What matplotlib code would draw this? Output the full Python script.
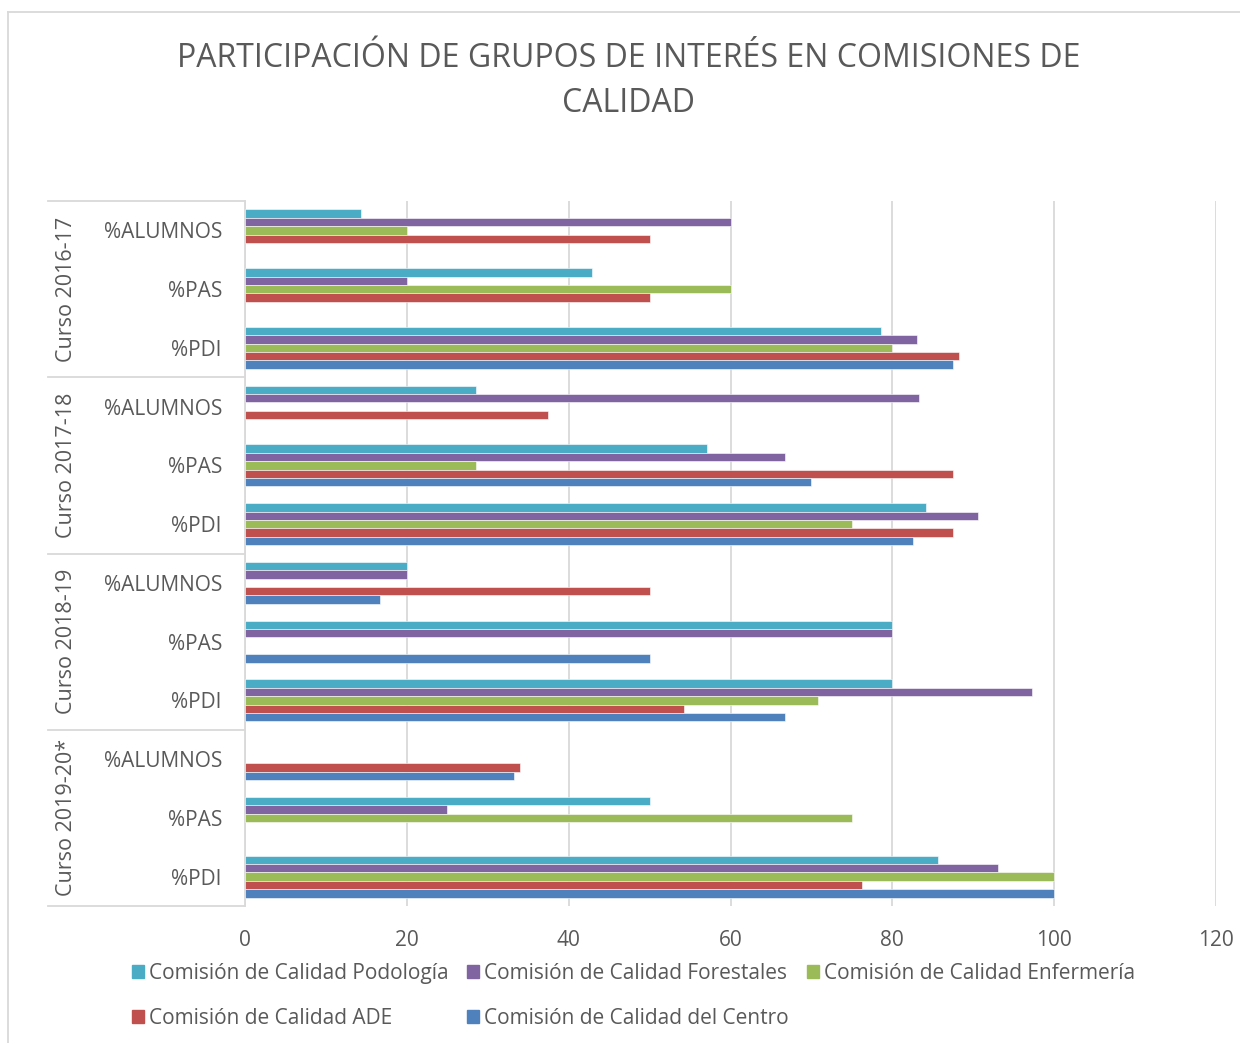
import numpy as np
import matplotlib.pyplot as plt
from matplotlib.patches import Patch

plt.rcParams['font.family'] = ['Open Sans', 'DejaVu Sans']
txt_color = '#595959'
grid_color = '#d9d9d9'

cursos = ['Curso 2016-17', 'Curso 2017-18', 'Curso 2018-19', 'Curso 2019-20*']
grupos = ['%ALUMNOS', '%PAS', '%PDI']

nan = np.nan
# one value per (curso, grupo), in reading order
podologia = [14.3, 42.9, 78.6, 28.6, 57.1, 84.1, 20, 80, 80, nan, 50, 85.7]
forestales = [60, 20, 83.0, 83.3, 66.7, 90.6, 20, 80, 97.3, nan, 25, 93.1]
enfermeria = [20, 60, 80, nan, 28.6, 75, nan, nan, 70.8, nan, 75, 100]
ade = [50, 50, 88.2, 37.5, 87.5, 87.5, 50, nan, 54.2, 34.0, nan, 76.2]
centro = [nan, nan, 87.5, nan, 70, 82.6, 16.7, 50, 66.7, 33.3, nan, 100]

series = [
    ('Comisión de Calidad Podología', podologia, '#4bacc6'),
    ('Comisión de Calidad Forestales', forestales, '#8064a2'),
    ('Comisión de Calidad Enfermería', enfermeria, '#9bbb59'),
    ('Comisión de Calidad ADE', ade, '#c0504d'),
    ('Comisión de Calidad del Centro', centro, '#4f81bd'),
]

fig = plt.figure(figsize=(12.4, 10.43), dpi=100)
ax = fig.add_axes([245 / 1240, 1 - 906 / 1043, 971 / 1240, 705 / 1043])

n = len(cursos) * len(grupos)
pos = np.arange(n)
h = 1 / 1.4 / len(series)
for k, (name, vals, col) in enumerate(series):
    ax.barh(pos + (k - 2) * h, vals, height=h, color=col, label=name,
            edgecolor='white', linewidth=0.4, zorder=3)

ax.set_xlim(0, 120)
ax.set_ylim(n - 0.5, -0.5)
ax.set_xticks(range(0, 121, 20))
ax.grid(axis='x', color=grid_color, linewidth=1.3, zorder=0)
ax.set_yticks([])
for s in ['top', 'right', 'bottom']:
    ax.spines[s].set_visible(False)
ax.spines['left'].set_color(grid_color)
ax.spines['left'].set_linewidth(1.3)
ax.tick_params(axis='x', length=0, pad=17, labelsize=15, labelcolor=txt_color)

# two-level category labels
trans = ax.get_yaxis_transform()
x_sep = (48 - 245) / 971
for i in range(n):
    ax.text(-0.0237, i, grupos[i % 3], transform=trans, ha='right',
            va='center_baseline', fontsize=15, color=txt_color)
for j, c in enumerate(cursos):
    ax.text(-0.184, 3 * j + 1, c, transform=trans, ha='center', va='center',
            rotation=90, fontsize=15.5, color=txt_color)
for yb in np.arange(-0.5, n, 3):
    ax.plot([x_sep, 0], [yb, yb], transform=trans, color=grid_color,
            linewidth=1.3, clip_on=False)

fig.text(0.507, 1 - 81 / 1043,
         'PARTICIPACIÓN DE GRUPOS DE INTERÉS EN COMISIONES DE\nCALIDAD',
         ha='center', va='center', fontsize=23, color=txt_color, linespacing=1.5)

# legend filled row by row
handles = [Patch(color=col, label=name) for name, _, col in series]
order = [0, 3, 1, 4, 2]
fig.legend([handles[i] for i in order], [series[i][0] for i in order],
           ncol=3, loc='center', bbox_to_anchor=(0.511, 1 - 996 / 1043),
           frameon=False, fontsize=15, labelcolor=txt_color,
           handlelength=0.6, handleheight=0.6, handletextpad=0.25,
           columnspacing=0.85, labelspacing=1.15)

# chart border (left and top edges)
fig.add_artist(plt.Line2D([8 / 1240, 8 / 1240], [0, 1 - 12 / 1043],
                          color=grid_color, linewidth=1.3))
fig.add_artist(plt.Line2D([8 / 1240, 1], [1 - 12 / 1043, 1 - 12 / 1043],
                          color=grid_color, linewidth=1.3))

fig.savefig('out.png', dpi=100)
